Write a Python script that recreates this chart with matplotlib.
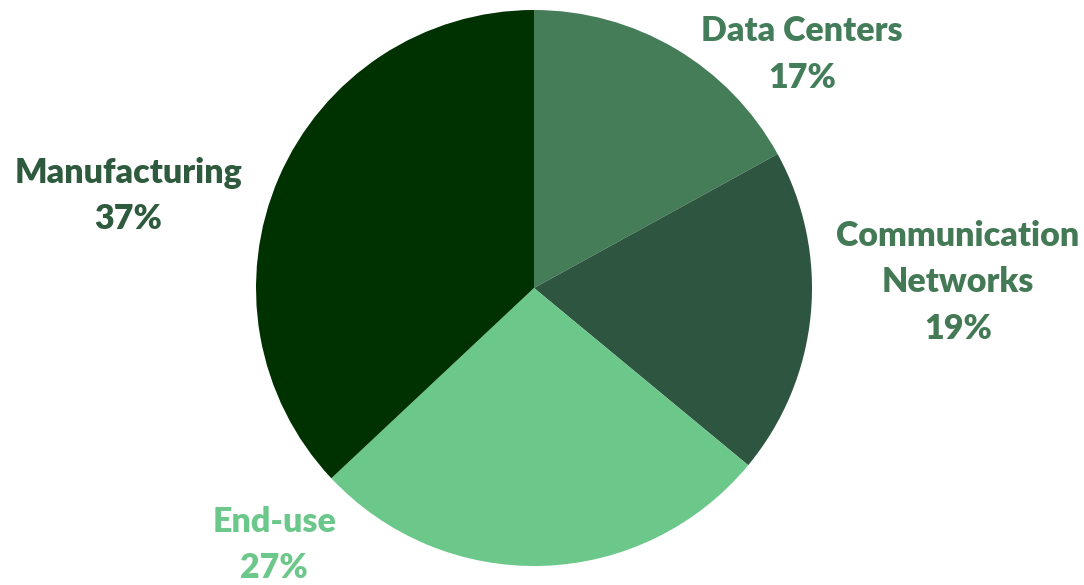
import matplotlib
matplotlib.use("Agg")
import matplotlib.pyplot as plt

categories = ["Data Centers", "Communication\nNetworks", "End-use", "Manufacturing"]
shares = [17, 19, 27, 37]
slice_colors = ["#457D59", "#2E5540", "#6CC88A", "#003100"]
label_colors = ["#447D59", "#437A55", "#6CC88A", "#2E5A3E"]
# label centers in pie-radius units (layout)
label_pos = [(0.964, 0.84), (1.525, 0.02), (-0.935, -0.925), (-1.46, 0.33)]

W, H = 1084, 585
fig = plt.figure(figsize=(W / 100, H / 100), dpi=100)
cx, cy, r = 534, 288, 278
ax = fig.add_axes([(cx - r) / W, (H - cy - r) / H, 2 * r / W, 2 * r / H])
ax.pie(shares, colors=slice_colors, startangle=90, counterclock=False,
       radius=1.0, wedgeprops=dict(linewidth=0))
ax.set_xlim(-1, 1)
ax.set_ylim(-1, 1)
ax.set_aspect("equal")
ax.axis("off")

for cat, val, col, (lx, ly) in zip(categories, shares, label_colors, label_pos):
    ax.text(lx, ly, f"{cat}\n{val}%", ha="center", va="center", color=col,
            fontsize=24.5, fontweight="heavy", family="Lato", linespacing=1.55,
            clip_on=False)

fig.savefig("out.png", dpi=100)
